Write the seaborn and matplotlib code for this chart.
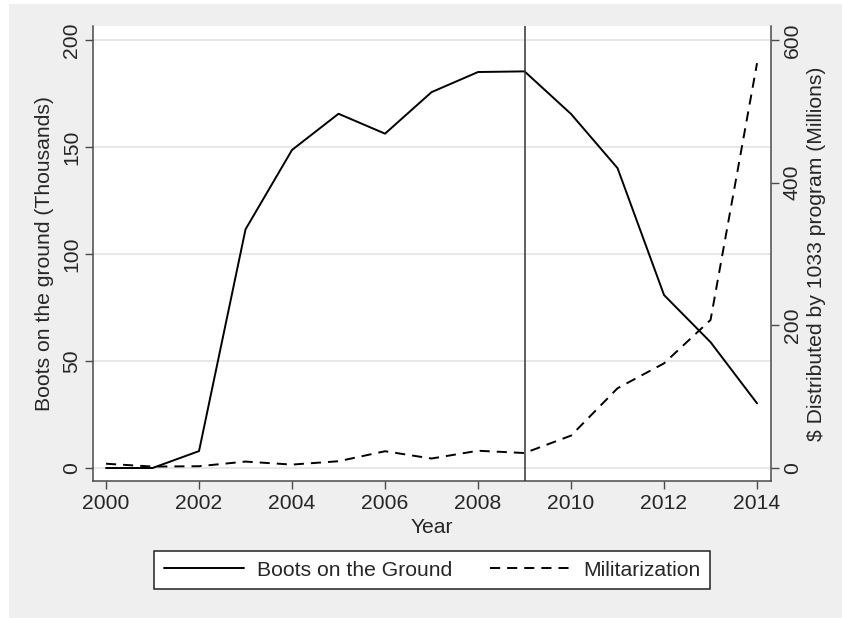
import matplotlib
matplotlib.use("Agg")
import matplotlib.pyplot as plt
from matplotlib.patches import Rectangle
from matplotlib.lines import Line2D
import seaborn as sns
import pandas as pd

years = list(range(2000, 2015))
boots_thousands = [0, 0, 7.9, 111.5, 148.6, 165.5, 156.2, 175.6, 185.0, 185.3,
                   165.4, 140.1, 80.8, 58.8, 30.2]
militarization_millions = [6.0, 2.0, 2.5, 9.0, 4.8, 9.5, 23.5, 13.3, 24.2, 21.0,
                           45.4, 111.8, 146.7, 207.5, 567.5]
left_ticks = [0, 50, 100, 150, 200]
right_ticks = [0, 200, 400, 600]
x_ticks = list(range(2000, 2015, 2))
policy_year = 2009

df = pd.DataFrame({"Year": years, "Boots": boots_thousands,
                   "Militarization": militarization_millions})

sns.set_theme(style="white")
plt.rcParams["font.family"] = ["Liberation Sans", "DejaVu Sans"]

W, H = 842, 618
fig = plt.figure(figsize=(W / 100, H / 100), dpi=100, facecolor="white")
fig.patches.append(Rectangle((9 / W, 0), 1 - 9 / W, 1 - 4 / H,
                             transform=fig.transFigure, facecolor="#efefef",
                             edgecolor="none", zorder=-10))

left, right, top, bottom = 93, 771, 26, 481
ax = fig.add_axes([left / W, 1 - bottom / H, (right - left) / W, (bottom - top) / H])
ax.set_facecolor("white")
ax2 = ax.twinx()

fs = 15.2
line_kw = dict(color="black", linewidth=1.4)
dash_style = (0, (5.2, 3.6))

sns.lineplot(data=df, x="Year", y="Boots", ax=ax, **line_kw)
sns.lineplot(data=df, x="Year", y="Militarization", ax=ax2, **line_kw)
ax2.lines[0].set_linestyle(dash_style)
ax.axvline(policy_year, color="#333333", linewidth=1.1, zorder=3)

ax.set_xlim(1999.72, 2014.30)
ax.set_ylim(-6.07, 206.5)
ax2.set_ylim(-6.07 * 3, 206.5 * 3)

ax.set_xticks(x_ticks)
ax.set_yticks(left_ticks)
ax2.set_yticks(right_ticks)
ax.yaxis.grid(True, color="#e8e8e8", linewidth=1.4)
ax.set_axisbelow(True)

spine_col = "#4a4a4a"
for a in (ax, ax2):
    a.spines["top"].set_visible(False)
    for s in ("left", "right", "bottom"):
        a.spines[s].set_color(spine_col)
        a.spines[s].set_linewidth(1.1)
ax.spines["right"].set_visible(False)
ax2.spines["left"].set_visible(False)
ax2.spines["bottom"].set_visible(False)

ax.tick_params(axis="x", length=5.5, width=1.0, color=spine_col, labelsize=fs,
               pad=4, direction="out", bottom=True)
ax.tick_params(axis="y", length=5.5, width=1.0, color=spine_col, labelsize=fs,
               pad=3, direction="out", left=True, labelrotation=90)
ax2.tick_params(axis="y", length=5.5, width=1.0, color=spine_col, labelsize=fs,
                pad=3, direction="out", right=True, labelrotation=90)
for lab in ax.get_yticklabels() + ax2.get_yticklabels():
    lab.set_verticalalignment("center")

ax.set_xlabel("Year", fontsize=fs, labelpad=3.5)
ax.set_ylabel("Boots on the ground (Thousands)", fontsize=fs, labelpad=6)
ax2.set_ylabel("$ Distributed by 1033 program (Millions)", fontsize=fs, labelpad=4)

handles = [Line2D([], [], color="black", linewidth=1.4),
           Line2D([], [], color="black", linewidth=1.4, linestyle=dash_style)]
leg = fig.legend(handles, ["Boots on the Ground", "Militarization"],
                 loc="center", bbox_to_anchor=(432 / W, 1 - 570 / H),
                 ncol=2, fontsize=fs, frameon=True, fancybox=False,
                 handlelength=3.8, handletextpad=0.6, columnspacing=1.8,
                 borderpad=0.45, borderaxespad=0)
leg.get_frame().set_edgecolor("#222222")
leg.get_frame().set_linewidth(1.1)
leg.get_frame().set_facecolor("white")
leg.get_frame().set_alpha(1)

fig.savefig("out.png", dpi=100, facecolor=fig.get_facecolor())
